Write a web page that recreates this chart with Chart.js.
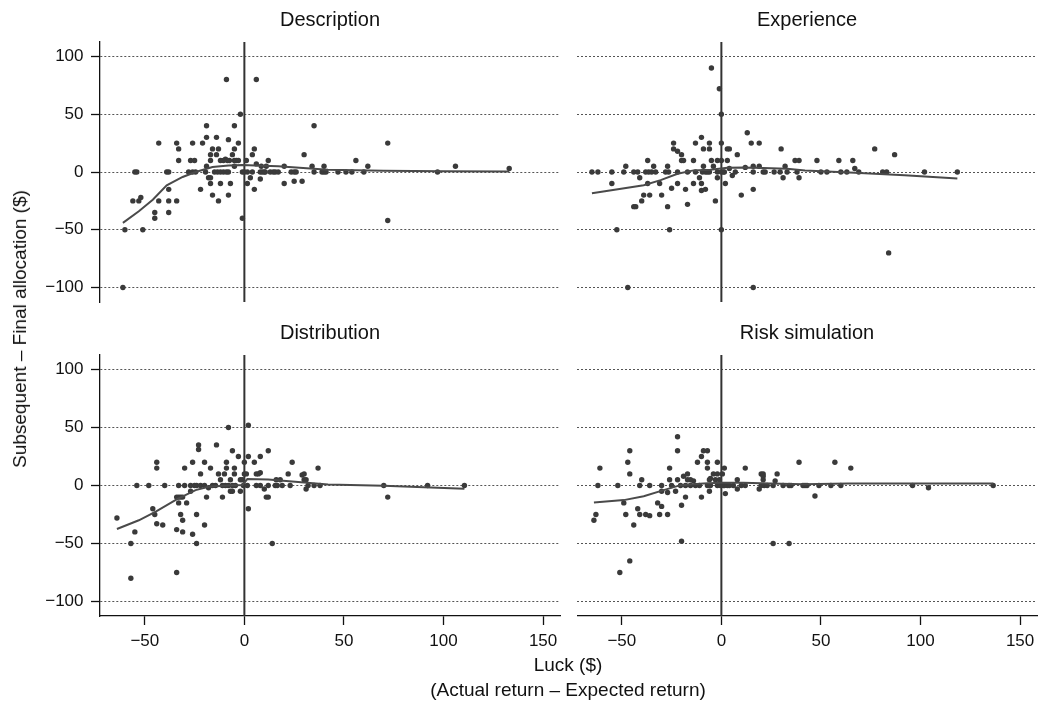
<!DOCTYPE html>
<html>
<head>
<meta charset="utf-8">
<script src="https://cdn.jsdelivr.net/npm/chart.js@4.4.1/dist/chart.umd.min.js"></script>
<style>
  body { margin: 0; background: #fff; }
  #wrap { position: relative; width: 1038px; height: 711px; font-family: "Liberation Sans", Arial, sans-serif; color: #111; }
  canvas { position: absolute; }
  .lbl { position: absolute; font-size: 19px; white-space: nowrap; transform: translate(-50%, -50%); }
</style>
</head>
<body>
<div id="wrap">
  <canvas id="c1" width="561" height="303" style="left:0;top:0"></canvas>
  <canvas id="c2" width="461" height="303" style="left:577px;top:0"></canvas>
  <canvas id="c3" width="561" height="348" style="left:0;top:313px"></canvas>
  <canvas id="c4" width="461" height="348" style="left:577px;top:313px"></canvas>
  <div class="lbl" style="left:20px;top:329px;transform:translate(-50%,-50%) rotate(-90deg)">Subsequent – Final allocation ($)</div>
  <div class="lbl" style="left:568px;top:665px">Luck ($)</div>
  <div class="lbl" style="left:568px;top:690px">(Actual return – Expected return)</div>
</div>
<script>
var luckTicks = [-50, 0, 50, 100, 150];
var allocTicks = [-100, -50, 0, 50, 100];
var luckRange = [-72.5, 158.5];
var allocRange = [-112.5, 112.5];
var panelTitles = ['Description', 'Experience', 'Distribution', 'Risk simulation'];

// Description
var descLuck = [-61,-60,-51,-55,-54,-56,-53,-52,-45,-45, -43,-43,-39,-38,-38,-38,-38,-34,-34,-33,
  -33,-27,-25,-28,-26,-24.5,-26,-22,-21,-19.5, -19,-19,-19,-18,-17,-17,-16,-17,-17,-16,
  -14,-14,-13,-13,-12,-10.5,-9.5,-8.5,-7.5,-12, -15,-13.5,-12,-10.5,-9,-8,-9,-8,-8,-7,
  -6,-5,-5,-5,-4,-5,-3,-3,-2,-1, -1,0,1,1.5,1.5,3,4,4,5,5,
  6,6,8,9,10,10.5,8,8.5,11,12, 13,14.5,15.5,17,20,20,23.5,25,26,25,
  29,30,34,35,35,39,40,41,40,47, 51,54,56,60,62,72,72,97,106,133];
var descAlloc = [-100,-50,-50,0,0,-25,-25,-22,-35,-40, 25,-25,0,0,-15,-25,-35,-25,25,20,
  10,10,10,0,0,0,25,-15,25,0, 5,30,40,-5,-5,-10,-20,10,15,20,
  30,15,20,-25,10,10,11,10,10,-10, 0,0,0,0,0,0,80,28,-20,-10,
  15,40,20,10,10,5,25,10,50,-40, 0,0,10,0,-10,-5,0,15,20,-15,
  80,7,0,0,0,0,-6,5,5,10, 0,0,0,0,5,-10,0,0,0,-8,
  -8,15,5,40,0,0,0,0,5,0, 0,0,10,0,5,25,-42,0,5,3];
var descFitX = [-61,-53,-46,-39,-31,-24.5,-16,-8,-1,5.5,17,42,70,100,133];
var descFitY = [-44,-34,-24,-11.5,-4.3,0,4.3,5.7,6,5.7,4.9,2,1,0.7,0.5];

// Experience
var expLuck = [-65,-62,-55,-55,-52.5,-49,-48,-47,-44,-42, -44,-43,-41,-40,-39,-38,-36.5,-35,-37,-37,
  -36,-34,-33,-31,-30,-28,-26.5,-27,-27,-26, -25,-24,-24,-22,-22,-22,-20,-20,-19,-18,
  -17,-17,-14,-14,-13,-13,-11,-10,-10,-10, -8,-9,-9,-9.5,-8,-7,-6,-6,-6,-5,
  -5,-4,-3,-2,-2,-1,0,0,0,0, -2,0,1,1.5,2,3,4,3,4,5.5,
  7,8,10,12,13,15,16,16,16,19, 19,16,21,22,26.5,29.5,30,31,32,33,
  37,39,38,39,48,50,53,59,60,63, 66,67,69,77,81,83,84,87,102,118.5];
var expAlloc = [0,0,0,-10,-50,0,5,-100,0,0, -30,-30,-5,-25,-20,0,0,0,10,-10,
  -20,5,0,-10,-20,0,0,5,-30,-50, -14,25,20,18,0,-10,15,10,10,-15,
  0,-28,10,-10,25,0,-5,30,-10,-16, -15,20,5,0,0,0,0,25,20,10,
  90,5,-25,10,-5,72,50,25,10,-50, 0,0,0,0,-10,20,20,10,3,-3,
  0,15,-20,4,34,25,5,-15,0,25, 5,-100,0,0,0,0,20,-5,5,0,
  10,10,0,-5,10,0,0,10,0,0, 10,3,0,20,0,0,-70,15,0,0];
var expFitX = [-65,-39,-30.5,-22,-14,-5.5,3,11,21,33,42,67,92,118.5];
var expFitY = [-18.3,-11.5,-7,-1.5,1.4,2,3.7,4,3.4,2.9,1.4,-0.6,-2.9,-5.7];

// Distribution
var distLuck = [-64,-57,-57,-55,-54,-48,-46,-45,-44,-44, -44,-41,-40,-34,-34,-34,-33,-32,-31,-33,
  -30,-33,-32,-31,-31,-30,-29,-27,-26,-26, -24,-24,-23,-23,-22,-27,-25,-24,-22,-20,
  -20,-19,-20,-18,-16,-14.5,-17,-14,-13,-12, -11,-10,-9,-9,-8,-7,-7,-6,-6,-5,
  -5,-11,-9.5,-8,-6,-4.5,-3,-2,-2,-1, 0,0,1,2,2,2,-0.5,1.5,5,6,
  7,8,8,6,8,10,11,12,12,12, 15.5,16.5,16,18,14,19,22,23,24,29,
  30,30,31,31,32,35,38,37,70,72, 92,110.5];
var distAlloc = [-28,-50,-80,-40,0,0,-20,-25,20,15, -33,-34,0,-38,-75,-10,-10,-10,-10,0,
  0,-15,-25,-30,-40,15,-15,-5,-42,20, -25,-50,35,31,10,0,0,0,0,20,
  -34,-10,0,-2,0,0,15,35,10,5, -10,10,20,15,50,5,-5,-5,30,15,
  10,0,0,0,0,0,25,5,-5,5, 20,10,10,52,25,-20,0,0,20,10,
  10,11,25,0,0,-3,-10,-10,30,0, 0,0,5,5,-50,0,10,0,20,9,
  10,5,5,-3,0,0,0,15,0,-10, 0,0];
var distFitX = [-64,-53,-44.5,-34,-24.5,-18,-8,-1,1.5,12,25.5,42,70,110.5];
var distFitY = [-37.5,-30,-22.6,-12,-4,-1,0,0.5,5.5,5.2,3.2,0.9,-0.3,-2.9];

// Risk simulation
var riskLuck = [-64,-63,-62,-61,-52,-51,-49,-48,-47,-46, -46,-46,-44,-42,-41,-41,-40,-38,-36,-36,
  -32,-30,-30,-31,-27,-30,-27,-26,-26,-25, -23,-22,-22,-22,-20,-20,-18,-19,-17,-17,
  -15.5,-14,-20.5,-18,-15.5,-13,-11,-12,-10,-10, -9,-7,-7,-7,-6,-5.5,-6,-7,-5.5,-4,
  -2,-3,-2,-1,-2,-0.5,0.5,1.5,1,1.5, 3,4,6,2,8,8,10,12,12,19,
  20,21,21,21,20,21.5,23,26,27,28, 26,31,34,35,34,39,41,42,43,47,
  49,55,60,57,65,96,104,136.5];
var riskAlloc = [-30,-25,0,15,0,-75,-15,-25,20,30, 10,-65,-34,-20,-25,0,5,-25,0,-26,
  -15,-18,0,-25,-25,-5,-6,15,5,0, -5,42,30,5,-48,-17,-10,8,10,5,
  5,4,0,0,0,0,0,20,25,-10, 30,30,20,15,5,6,-5,0,0,10,
  10,5,20,5,0,0,10,15,0,0, 0,0,0,-7,5,-3,0,0,15,-3,
  10,10,5,8,0,0,0,-50,4,10, 0,0,0,0,-50,20,0,0,0,-9,
  0,0,0,20,15,0,-2,0];
var riskFitX = [-64,-49,-39,-29,-20.5,-9,-0.5,11,24.5,41,64,136.5];
var riskFitY = [-14.6,-12.6,-9.2,-4,0.3,1.7,2.3,2.3,1.7,1.1,1.7,1.7];

var FONT = '"Liberation Sans", Arial, sans-serif';

function fmt(v) {
  return v < 0 ? '\u2212' + Math.abs(v) : String(v);
}

function toPoints(xs, ys) {
  return xs.map(function (x, i) { return { x: x, y: ys[i] }; });
}

function makePanel(id, title, luck, alloc, fitX, fitY, showY, showX) {
  var ctx = document.getElementById(id).getContext('2d');
  var xScale = {
    type: 'linear',
    min: luckRange[0],
    max: luckRange[1],
    display: showX,
    afterBuildTicks: function (s) { s.ticks = luckTicks.map(function (v) { return { value: v }; }); },
    grid: { drawOnChartArea: false, drawTicks: true, tickLength: 9, tickColor: '#111', tickWidth: 1.3 },
    border: { display: true, color: '#111', width: 1.3 },
    ticks: { padding: 6, color: '#111', font: { family: FONT, size: 17 }, callback: fmt, maxRotation: 0 }
  };
  if (showX) {
    xScale.afterFit = function (s) { s.height = 45; s.paddingLeft = 0; s.paddingRight = 0; };
  }

  var yScale = {
    type: 'linear',
    min: allocRange[0],
    max: allocRange[1],
    afterBuildTicks: function (s) { s.ticks = allocTicks.map(function (v) { return { value: v }; }); },
    // fixed axis width, and no extra room for the end labels
    afterFit: function (s) { s.width = showY ? 100 : 0; s.paddingTop = 0; s.paddingBottom = 0; },
    grid: { color: '#555', lineWidth: 1, drawTicks: showY, tickLength: 9, tickColor: '#111', tickWidth: 1.3 },
    border: { display: showY, color: '#111', width: 1.3, dash: [2, 2] },
    ticks: { display: showY, padding: 7.5, color: '#111', font: { family: FONT, size: 17 }, callback: fmt }
  };

  new Chart(ctx, {
    type: 'scatter',
    data: {
      datasets: [
        {
          data: toPoints(fitX, fitY),
          showLine: true, borderColor: '#4a4a4a', borderWidth: 2,
          pointRadius: 0, tension: 0
        },
        {
          data: toPoints(luck, alloc),
          backgroundColor: '#3a3a3a', borderWidth: 0, pointRadius: 2.7
        },
        {
          data: [{ x: 0, y: allocRange[0] }, { x: 0, y: allocRange[1] }],
          showLine: true, borderColor: '#333', borderWidth: 2, pointRadius: 0
        }
      ]
    },
    options: {
      responsive: false,
      animation: false,
      events: [],
      layout: { autoPadding: false, padding: { left: 0, right: 1, top: 0, bottom: showX ? 0 : 1 } },
      plugins: {
        legend: { display: false },
        tooltip: { enabled: false },
        title: {
          display: true, text: title, fullSize: false, color: '#111',
          font: { family: FONT, size: 20, weight: 'normal' },
          padding: { top: 8, bottom: 10 }
        }
      },
      scales: { x: xScale, y: yScale }
    }
  });
}

makePanel('c1', panelTitles[0], descLuck, descAlloc, descFitX, descFitY, true, false);
makePanel('c2', panelTitles[1], expLuck, expAlloc, expFitX, expFitY, false, false);
makePanel('c3', panelTitles[2], distLuck, distAlloc, distFitX, distFitY, true, true);
makePanel('c4', panelTitles[3], riskLuck, riskAlloc, riskFitX, riskFitY, false, true);
</script>
</body>
</html>
